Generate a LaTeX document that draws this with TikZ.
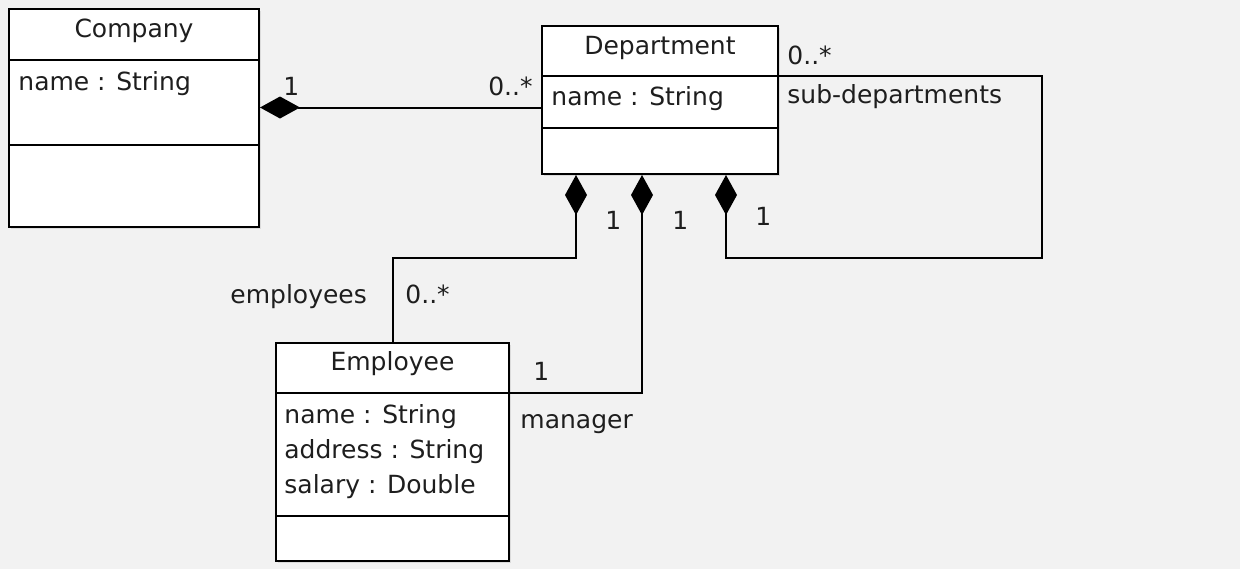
\documentclass[tikz,border=0pt]{standalone}
\usepackage{fontspec}
\setmainfont{DejaVu Sans}
\usetikzlibrary{arrows.meta}
\definecolor{bg}{HTML}{F2F2F2}
\definecolor{ink}{HTML}{1E1E1E}
\begin{document}
\begin{tikzpicture}[x=0.5pt,y=-0.5pt,
  umlbox/.style={draw=black, fill=white, line width=1pt, inner sep=0pt, rectangle},
  divider/.style={line width=1pt},
  lbl/.style={inner sep=0pt, anchor=base west, text=ink, font=\fontsize{12.5}{15}\selectfont},
  conn/.style={line width=1pt},
  comp/.style={conn, {Diamond[length=20pt,width=11pt]}-},
  shadowbox/.style={fill=black!14, draw=none}]
% background
\fill[bg] (0,0) rectangle (1240,569);
\useasboundingbox (0,0) rectangle (1240,569);
% shadows
\fill[shadowbox] (11,11) rectangle (261,229);
\fill[shadowbox] (544,28) rectangle (780,176);
\fill[shadowbox] (278,345) rectangle (511,563);
% boxes
\node[umlbox, minimum width=125pt, minimum height=109pt] (company) at (134,118) {};
\node[umlbox, minimum width=118pt, minimum height=74pt] (dept) at (660,100) {};
\node[umlbox, minimum width=116.5pt, minimum height=109pt] (emp) at (392.5,452) {};
% dividers
\draw[divider] (company.west |- 0,60) -- (company.east |- 0,60);
\draw[divider] (company.west |- 0,145) -- (company.east |- 0,145);
\draw[divider] (dept.west |- 0,76) -- (dept.east |- 0,76);
\draw[divider] (dept.west |- 0,128) -- (dept.east |- 0,128);
\draw[divider] (emp.west |- 0,393) -- (emp.east |- 0,393);
\draw[divider] (emp.west |- 0,516) -- (emp.east |- 0,516);
% box texts
\node[lbl, anchor=base] (companyT) at (134,37) {Company};
\node[lbl] (companyA) at (18,90) {name : String};
\node[lbl, anchor=base] (deptT) at (660,54) {Department};
\node[lbl] (deptA) at (551,105) {name : String};
\node[lbl, anchor=base] (empT) at (392.5,370) {Employee};
\node[lbl] (empA1) at (284,423) {name : String};
\node[lbl] (empA2) at (284,458) {address : String};
\node[lbl] (empA3) at (284,493) {salary : Double};
% connectors
\coordinate (loopTR) at (1042,76);
\coordinate (loopBR) at (1042,258);
\coordinate (loopBL) at (726,258);
\coordinate (empBend1) at (576,258);
\coordinate (empBend2) at (393,258);
\coordinate (mgrBend) at (642,393);
\draw[comp] (company.east |- 0,107.5) -- (dept.west |- 0,107.5);
\draw[comp] (dept.south -| loopBL) -- (loopBL) -- (loopBR) -- (loopTR) -- (dept.east |- loopTR);
\draw[comp] (dept.south -| empBend1) -- (empBend1) -- (empBend2) -- (emp.north -| empBend2);
\draw[comp] (dept.south -| mgrBend) -- (mgrBend) -- (emp.east |- mgrBend);
% labels
\node[lbl] (l1) at (283,95) {1};
\node[lbl, anchor=base east] (l2) at (533,95) {0..*};
\node[lbl] (l3) at (787,64) {0..*};
\node[lbl] (l4) at (787,103) {sub-departments};
\node[lbl] (l5) at (605,229) {1};
\node[lbl] (l6) at (672,229) {1};
\node[lbl] (l7) at (755,225) {1};
\node[lbl] (l8) at (230,303) {employees};
\node[lbl] (l9) at (405,303) {0..*};
\node[lbl] (l10) at (533,380) {1};
\node[lbl] (l11) at (520,428) {manager};
\end{tikzpicture}
\end{document}
